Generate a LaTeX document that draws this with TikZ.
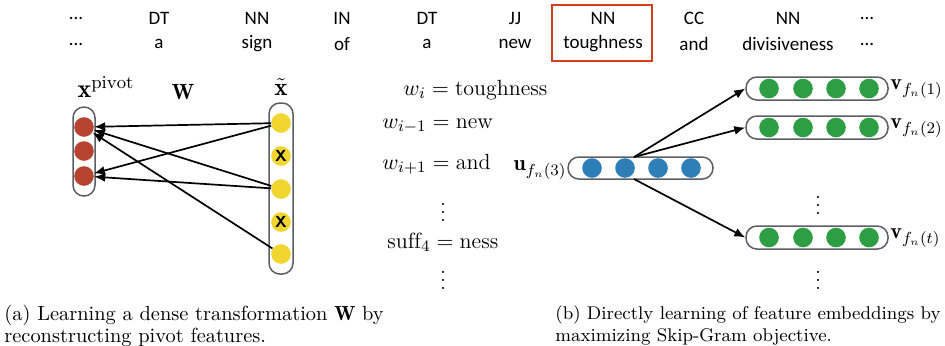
\documentclass[tikz,border=0pt]{standalone}
\usepackage{fontspec}
\newfontfamily\topfont{Carlito}
\usetikzlibrary{arrows.meta}
\definecolor{cred}{HTML}{B5432F}
\definecolor{cyel}{HTML}{F2D630}
\definecolor{cblue}{HTML}{2E7EB8}
\definecolor{cgreen}{HTML}{2E9E44}
\definecolor{capc}{HTML}{5A5F66}
\definecolor{boxred}{HTML}{D2401E}
\begin{document}
\begin{tikzpicture}[x=0.5pt,y=-0.5pt,
  tt/.style={font=\topfont\fontsize{9.5}{11}\selectfont, inner sep=0},
  capsule/.style={draw=capc, line width=0.75pt, fill=white, inner sep=0},
  vcap/.style={capsule, rounded corners=5.4pt},
  hcap/.style={capsule, rounded corners=5.4pt},
  dot/.style={circle, inner sep=0, minimum size=9.8pt},
  rdot/.style={dot, fill=cred},
  ydot/.style={dot, fill=cyel, font=\sffamily\bfseries\fontsize{8}{8}\selectfont},
  bdot/.style={dot, fill=cblue},
  gdot/.style={dot, fill=cgreen},
  arr/.style={-{Latex[length=5.5pt,width=4.5pt]}, line width=0.85pt, black},
  eq/.style={anchor=west, inner sep=0, font=\fontsize{11}{13}\selectfont},
  lab/.style={inner sep=0, font=\fontsize{11}{13}\selectfont},
  captext/.style={anchor=west, inner sep=0, font=\fontsize{10.2}{12}\selectfont},
  captextb/.style={anchor=west, inner sep=0, font=\fontsize{9.2}{12}\selectfont}]
\useasboundingbox (0,0) rectangle (945,345);

% ---- top tag rows ----
\node[tt] (p0) at (76,18) {...};   \node[tt] (w0) at (76,44) {...};
\node[tt] (p1) at (159,18) {DT};   \node[tt] (w1) at (159,44) {a};
\node[tt] (p2) at (257,18) {NN};   \node[tt] (w2) at (257,44) {sign};
\node[tt] (p3) at (342,18) {IN};   \node[tt] (w3) at (342,44) {of};
\node[tt] (p4) at (427,18) {DT};   \node[tt] (w4) at (427,44) {a};
\node[tt] (p5) at (515,18) {JJ};   \node[tt] (w5) at (515,44) {new};
\node[tt] (p6) at (603,18) {NN};   \node[tt] (w6) at (603,44) {toughness};
\node[tt] (p7) at (694,18) {CC};   \node[tt] (w7) at (694,44) {and};
\node[tt] (p8) at (788,18) {NN};   \node[tt] (w8) at (788,44) {divisiveness};
\node[tt] (p9) at (867,18) {...};  \node[tt] (w9) at (867,44) {...};
\node[draw=boxred, line width=1pt, minimum width=50pt, minimum height=28pt, inner sep=0] (hl) at (602,33) {};

% ---- left panel ----
\node[vcap, minimum width=11pt, minimum height=44.5pt] (lc) at (84,151.5) {};
\node[rdot] (r1) at (84,127) {};
\node[rdot] (r2) at (84,151) {};
\node[rdot] (r3) at (84,176) {};
\node[vcap, minimum width=12pt, minimum height=85.5pt] (rc) at (281,188.5) {};
\node[ydot] (y1) at (281,123) {};
\node[ydot] (y2) at (281,156) {X};
\node[ydot] (y3) at (281,189) {};
\node[ydot] (y4) at (281,222) {X};
\node[ydot] (y5) at (281,254) {};
\node[lab, font=\fontsize{13}{15}\selectfont] (lxp) at (106,87) {$\mathbf{x}^{\mathrm{pivot}}$};
\node[lab] (lW) at (183,92) {$\mathbf{W}$};
\node[lab, font=\fontsize{12.5}{15}\selectfont] (lxt) at (281,87) {$\tilde{\mathbf{x}}$};
\draw[arr] (y1) -- (r1);
\draw[arr] (y3) -- (r1);
\draw[arr] (y5) -- (r1);
\draw[arr] (y1) -- (r3);
\draw[arr] (y3) -- (r3);

% ---- middle equations ----
\node[eq] (e1) at (403,90) {$w_i = \mathrm{toughness}$};
\node[eq] (e2) at (382,126) {$w_{i-1} = \mathrm{new}$};
\node[eq] (e3) at (382,164) {$w_{i+1} = \mathrm{and}$};
\node[lab] (d1) at (443,206) {$\vdots$};
\node[eq] (e4) at (387,242) {$\mathrm{suff}_4 = \mathrm{ness}$};
\node[lab] (d2) at (443,274) {$\vdots$};

% ---- right panel ----
\node[hcap, minimum width=72.5pt, minimum height=11pt] (uc) at (640.5,168) {};
\node[bdot] (b1) at (592,168) {};
\node[bdot] (b2) at (625,168) {};
\node[bdot] (b3) at (658,168) {};
\node[bdot] (b4) at (691,168) {};
\node[lab, anchor=east] (ul) at (567,170) {$\mathbf{u}_{f_n(3)}$};

\foreach \n/\yy in {1/88.5, 2/127.5, 3/237.5}{
  \node[hcap, minimum width=71pt, minimum height=11.5pt] (g\n) at (817,\yy) {};
  \node[gdot] (g\n a) at (769,\yy) {};
  \node[gdot] (g\n b) at (803,\yy) {};
  \node[gdot] (g\n c) at (836,\yy) {};
  \node[gdot] (g\n d) at (869,\yy) {};
}
\node[lab, anchor=west] (v1) at (890,89) {$\mathbf{v}_{f_n(1)}$};
\node[lab, anchor=west] (v2) at (890,128) {$\mathbf{v}_{f_n(2)}$};
\node[lab, anchor=west] (v3) at (890,238) {$\mathbf{v}_{f_n(t)}$};
\node[lab] (d3) at (818,199) {$\vdots$};
\node[lab] (d4) at (818,274) {$\vdots$};

\coordinate (ua) at (634,157);
\coordinate (ub) at (634,179);
\draw[arr] (ua) -- (g1.west);
\draw[arr] (ua) -- (g2.west);
\draw[arr] (ub) -- (g3.west);

% ---- captions ----
\node[captext] (ca1) at (4,315) {(a) Learning a dense transformation $\mathbf{W}$ by};
\node[captext] (ca2) at (4,337) {reconstructing pivot features.};
\node[captextb] (cb1) at (555,315) {(b) Directly learning of feature embeddings by};
\node[captextb] (cb2) at (555,337) {maximizing Skip-Gram objective.};
\end{tikzpicture}
\end{document}
